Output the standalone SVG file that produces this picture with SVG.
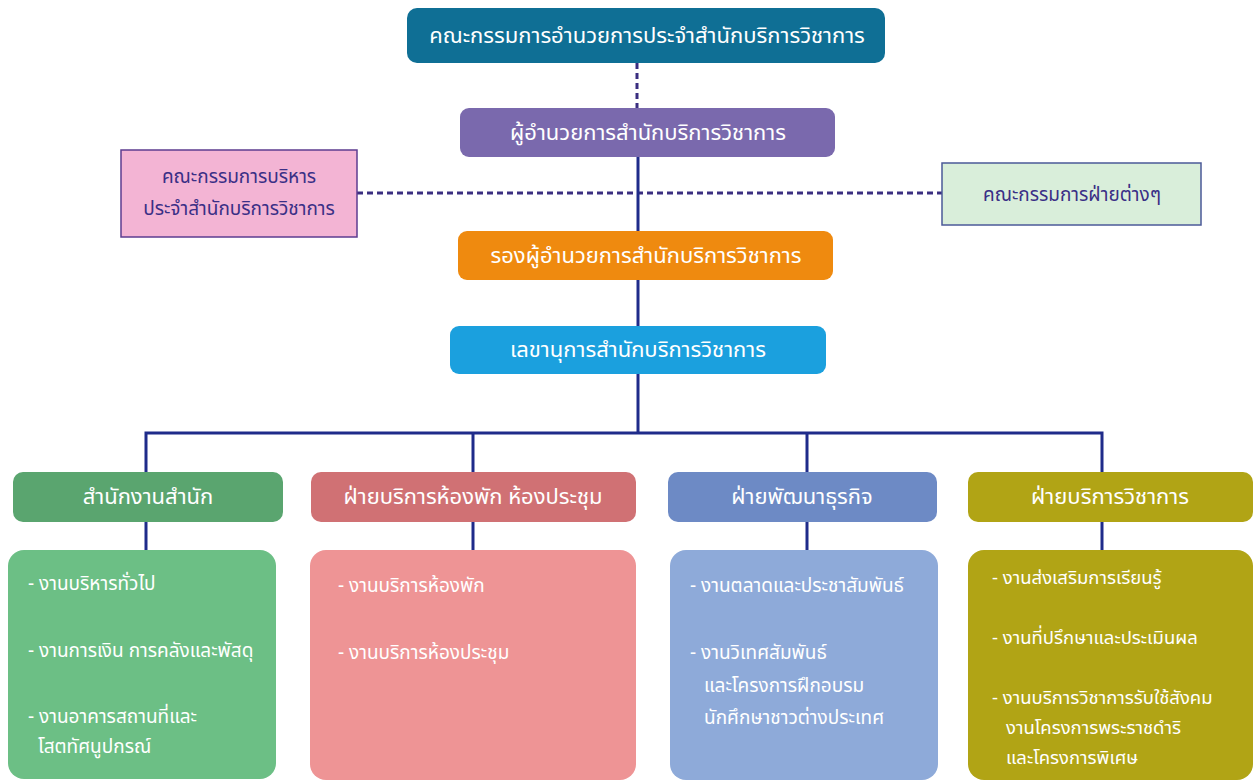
<svg xmlns="http://www.w3.org/2000/svg" width="1253" height="782" viewBox="0 0 1253 782">
<style>
text{font-family:"Noto Sans Thai","Noto Sans","DejaVu Sans","Liberation Sans",sans-serif;fill:#fff;}
.h{font-size:22px;text-anchor:middle;}
.t{font-size:19px;}
.o{font-size:18.5px;}
.c{font-size:19px;text-anchor:middle;fill:#3a2f86;}
.solid{stroke:#1f2b8a;stroke-width:3;fill:none;}
.dash{stroke:#3a2e80;stroke-width:3;fill:none;stroke-dasharray:6 4;}
</style>
<rect width="1253" height="782" fill="#fff"/>
<g id="connectors">
<line class="dash" x1="637" y1="63" x2="637" y2="108"/>
<line class="dash" x1="357" y1="193" x2="942" y2="193"/>
<line class="solid" x1="638" y1="157" x2="638" y2="231"/>
<line class="solid" x1="638" y1="280" x2="638" y2="326"/>
<line class="solid" x1="638" y1="374" x2="638" y2="433"/>
<polyline class="solid" points="146,472 146,433 1102,433 1102,472"/>
<line class="solid" x1="473" y1="433" x2="473" y2="472"/>
<line class="solid" x1="807" y1="433" x2="807" y2="472"/>
<line class="solid" x1="146" y1="521" x2="146" y2="550"/>
<line class="solid" x1="473" y1="521" x2="473" y2="550"/>
<line class="solid" x1="807" y1="521" x2="807" y2="550"/>
<line class="solid" x1="1102" y1="521" x2="1102" y2="550"/>
</g>
<g id="board">
<rect x="407" y="8" width="478" height="55" rx="10" fill="#0f6f95"/>
<text class="h" x="647" y="43">คณะกรรมการอำนวยการประจำสำนักบริการวิชาการ</text>
</g>
<g id="director">
<rect x="460" y="108" width="375" height="49" rx="9" fill="#7a69ad"/>
<text class="h" x="648" y="140">ผู้อำนวยการสำนักบริการวิชาการ</text>
</g>
<g id="exec-committee">
<rect x="121" y="150" width="236" height="87" fill="#f3b4d4" stroke="#5d3d90" stroke-width="1.5"/>
<text class="c" x="239" y="183">คณะกรรมการบริหาร</text>
<text class="c" x="239" y="215">ประจำสำนักบริการวิชาการ</text>
</g>
<g id="dept-committee">
<rect x="942" y="163" width="259" height="62" fill="#d9eeda" stroke="#4b5a98" stroke-width="1.5"/>
<text class="c" x="1072" y="201">คณะกรรมการฝ่ายต่างๆ</text>
</g>
<g id="deputy">
<rect x="458" y="231" width="375" height="49" rx="9" fill="#ef8a0f"/>
<text class="h" x="646" y="263">รองผู้อำนวยการสำนักบริการวิชาการ</text>
</g>
<g id="secretary">
<rect x="450" y="326" width="376" height="48" rx="9" fill="#1ba0de"/>
<text class="h" x="638" y="357">เลขานุการสำนักบริการวิชาการ</text>
</g>
<g id="office">
<rect x="13" y="472" width="270" height="50" rx="10" fill="#5aa56f"/>
<text class="h" x="148" y="504">สำนักงานสำนัก</text>
<rect x="8" y="550" width="268" height="229" rx="16" fill="#6cbf85"/>
<text class="t" x="28" y="590">- งานบริหารทั่วไป</text>
<text class="t" x="28" y="657">- งานการเงิน การคลังและพัสดุ</text>
<text class="t" x="28" y="723">- งานอาคารสถานที่และ</text>
<text class="t" x="38" y="753">โสตทัศนูปกรณ์</text>
</g>
<g id="rooms">
<rect x="311" y="472" width="325" height="50" rx="10" fill="#d07174"/>
<text class="h" x="473" y="504">ฝ่ายบริการห้องพัก ห้องประชุม</text>
<rect x="310" y="550" width="326" height="230" rx="16" fill="#ee9495"/>
<text class="t" x="338" y="592">- งานบริการห้องพัก</text>
<text class="t" x="338" y="659">- งานบริการห้องประชุม</text>
</g>
<g id="business">
<rect x="668" y="472" width="269" height="50" rx="10" fill="#6d8ac5"/>
<text class="h" x="802" y="504">ฝ่ายพัฒนาธุรกิจ</text>
<rect x="670" y="550" width="268" height="230" rx="16" fill="#8eaad9"/>
<text class="t" x="690" y="592">- งานตลาดและประชาสัมพันธ์</text>
<text class="t" x="690" y="659">- งานวิเทศสัมพันธ์</text>
<text class="t" x="704" y="692">และโครงการฝึกอบรม</text>
<text class="t" x="704" y="724">นักศึกษาชาวต่างประเทศ</text>
</g>
<g id="academic">
<rect x="968" y="472" width="285" height="50" rx="10" fill="#b1a415"/>
<text class="h" x="1110" y="504">ฝ่ายบริการวิชาการ</text>
<rect x="968" y="550" width="285" height="230" rx="16" fill="#b1a415"/>
<text class="o" x="992" y="584">- งานส่งเสริมการเรียนรู้</text>
<text class="o" x="992" y="644">- งานที่ปรึกษาและประเมินผล</text>
<text class="o" x="992" y="704">- งานบริการวิชาการรับใช้สังคม</text>
<text class="o" x="1006" y="734">งานโครงการพระราชดำริ</text>
<text class="o" x="1006" y="764">และโครงการพิเศษ</text>
</g>
</svg>
